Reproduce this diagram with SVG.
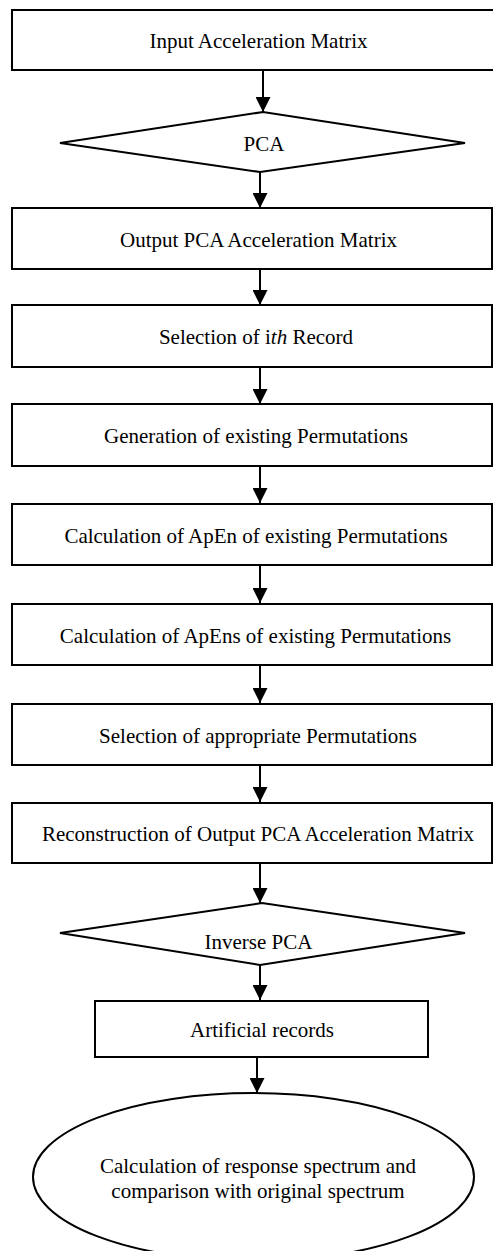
<svg xmlns="http://www.w3.org/2000/svg" width="493" height="1251" viewBox="0 0 493 1251">
<style>
.n{fill:#fff;stroke:#000;stroke-width:2}
.t{font-family:"Liberation Serif","Times New Roman",serif;font-size:21px;fill:#000;text-anchor:middle}
.c{stroke:#000;stroke-width:2;fill:none;marker-end:url(#ah)}
</style>
<defs>
<marker id="ah" markerUnits="userSpaceOnUse" markerWidth="15" markerHeight="15" refX="15" refY="7.5" orient="auto" viewBox="0 0 15 15">
<path d="M0,0 L15,7.5 L0,15 z" fill="#000"/>
</marker>
</defs>
<rect width="493" height="1251" fill="#fff"/>
<g id="connectors">
<line class="c" x1="263" y1="71" x2="263" y2="112"/>
<line class="c" x1="260" y1="172" x2="260" y2="208"/>
<line class="c" x1="260" y1="269" x2="260" y2="305"/>
<line class="c" x1="260" y1="367" x2="260" y2="404"/>
<line class="c" x1="260" y1="466" x2="260" y2="503"/>
<line class="c" x1="260" y1="565" x2="260" y2="603"/>
<line class="c" x1="260" y1="665" x2="260" y2="703"/>
<line class="c" x1="260" y1="765" x2="260" y2="802"/>
<line class="c" x1="260" y1="863" x2="260" y2="903"/>
<line class="c" x1="260" y1="965" x2="260" y2="1000"/>
<line class="c" x1="257" y1="1057" x2="257" y2="1093"/>
</g>
<g id="n1"><rect class="n" x="12" y="10" width="485" height="60"/><text class="t" x="258.5" y="48">Input Acceleration Matrix</text></g>
<g id="n2"><polygon class="n" points="60,143 263,112 465,143 260,172"/><text class="t" x="264" y="151">PCA</text></g>
<g id="n3"><rect class="n" x="12" y="208" width="480" height="61"/><text class="t" x="258.5" y="246.5">Output PCA Acceleration Matrix</text></g>
<g id="n4"><rect class="n" x="12" y="305" width="480" height="62"/><text class="t" x="256" y="344">Selection of i<tspan font-style="italic">th</tspan> Record</text></g>
<g id="n5"><rect class="n" x="12" y="404" width="480" height="62"/><text class="t" x="256" y="443">Generation of existing Permutations</text></g>
<g id="n6"><rect class="n" x="12" y="504" width="480" height="61"/><text class="t" x="256" y="542.5">Calculation of ApEn of existing Permutations</text></g>
<g id="n7"><rect class="n" x="12" y="604" width="480" height="61"/><text class="t" x="255.5" y="642.5">Calculation of ApEns of existing Permutations</text></g>
<g id="n8"><rect class="n" x="12" y="704" width="480" height="61"/><text class="t" x="258" y="742.5">Selection of appropriate Permutations</text></g>
<g id="n9"><rect class="n" x="12" y="803" width="480" height="60"/><text class="t" x="258" y="841">Reconstruction of Output PCA Acceleration Matrix</text></g>
<g id="n10"><polygon class="n" points="60,933 262,903 465,933 260,965"/><text class="t" x="258.5" y="949">Inverse PCA</text></g>
<g id="n11"><rect class="n" x="95" y="1001" width="333" height="56"/><text class="t" x="262" y="1037">Artificial records</text></g>
<g id="n12"><ellipse class="n" cx="253.5" cy="1177" rx="220.5" ry="84"/><text class="t" x="258" y="1173">Calculation of response spectrum and</text><text class="t" x="258" y="1198">comparison with original spectrum</text></g>
</svg>
